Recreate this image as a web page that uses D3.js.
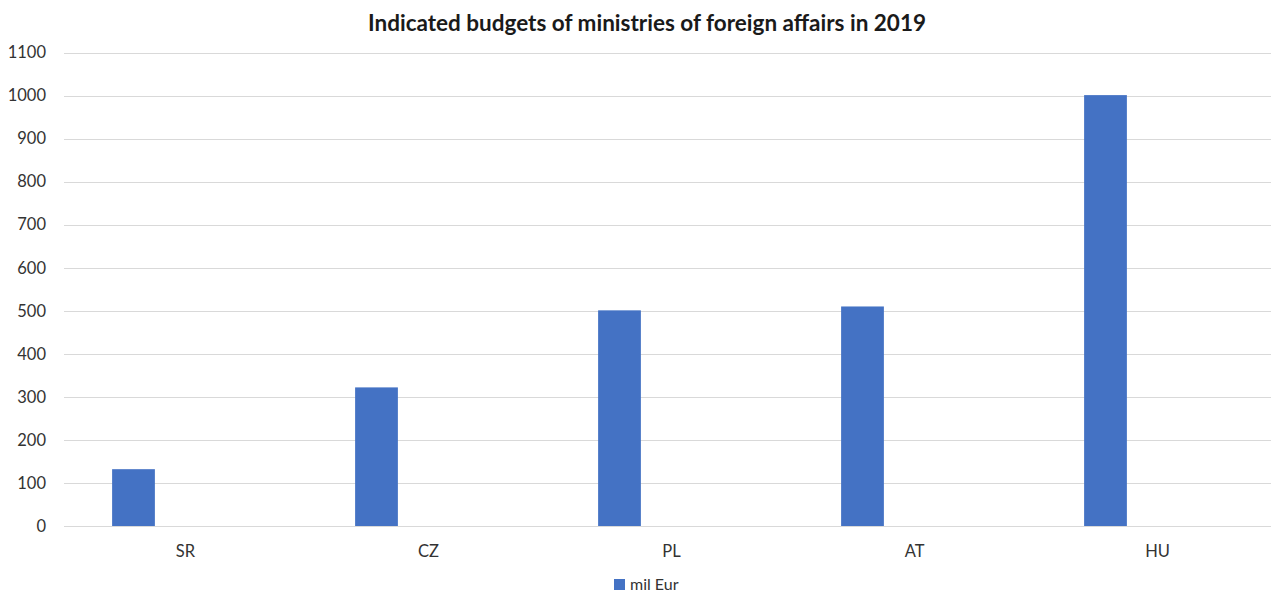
<!DOCTYPE html>
<html>
<head>
<meta charset="utf-8">
<script src="https://cdn.jsdelivr.net/npm/d3@7"></script>
<style>
  html, body { margin: 0; padding: 0; background: #fff; }
  svg { display: block; font-family: Lato, "Open Sans", sans-serif; }
</style>
</head>
<body>
<svg id="chart" width="1275" height="594"></svg>
<script>
// Indicated budgets of ministries of foreign affairs, 2019 (million EUR)
const countries = ["SR", "CZ", "PL", "AT", "HU"];
const budgets = [132, 322, 501, 510, 1001];
const yTicks = [0, 100, 200, 300, 400, 500, 600, 700, 800, 900, 1000, 1100];
const seriesName = "mil Eur";
const titleText = "Indicated budgets of ministries of foreign affairs in 2019";

const svg = d3.select("#chart");
const W = 1275, H = 594;
const plot = { left: 64, right: 1271, top: 52.5, bottom: 526 };

// Category slots are 243px wide; the plot is clipped slightly on the right
const x = d3.scaleBand()
  .domain(countries)
  .range([plot.left, plot.left + 243 * countries.length])
  .paddingInner(0).paddingOuter(0);

const y = d3.scaleLinear()
  .domain([0, 1100])
  .range([plot.bottom, plot.top]);

// Horizontal gridlines
svg.append("g")
  .selectAll("line")
  .data(yTicks)
  .join("line")
  .attr("x1", plot.left)
  .attr("x2", plot.right)
  .attr("y1", d => Math.round(y(d)) + 0.5)
  .attr("y2", d => Math.round(y(d)) + 0.5)
  .attr("stroke", "#d9d9d9")
  .attr("stroke-width", 1.2);

// Y axis labels
const yAxis = d3.axisLeft(y).tickValues(yTicks).tickFormat(d3.format("d"))
  .tickSize(0).tickPadding(0);
const gy = svg.append("g")
  .attr("transform", `translate(${plot.left - 18},0)`)
  .call(yAxis);
gy.select(".domain").remove();
gy.selectAll("text")
  .attr("font-family", "Lato, 'Open Sans', sans-serif")
  .attr("font-size", 16.5)
  .attr("fill", "#333");

// Bars: each sits in the left part of its category slot
const barOffset = 0.198;
const barWidth = 0.176;
svg.append("g")
  .selectAll("rect")
  .data(countries.map((c, i) => ({ c, v: budgets[i] })))
  .join("rect")
  .attr("x", d => x(d.c) + x.bandwidth() * barOffset)
  .attr("width", x.bandwidth() * barWidth)
  .attr("y", d => y(d.v))
  .attr("height", d => y(0) - y(d.v))
  .attr("fill", "#4472c4");

// Category labels
const xAxis = d3.axisBottom(x).tickSize(0).tickPadding(0);
const gx = svg.append("g")
  .attr("transform", `translate(0,${y(0) + 31})`)
  .call(xAxis);
gx.select(".domain").remove();
gx.selectAll("text")
  .attr("font-family", "Lato, 'Open Sans', sans-serif")
  .attr("font-size", 16.5)
  .attr("fill", "#333")
  .attr("dy", "0");

// Title
svg.append("text")
  .attr("x", 647)
  .attr("y", 31)
  .attr("text-anchor", "middle")
  .attr("font-size", 22.5)
  .attr("font-weight", "bold")
  .attr("fill", "#1a1a1a")
  .text(titleText);

// Legend
const legend = svg.append("g").attr("transform", "translate(614,579)");
legend.append("rect")
  .attr("width", 11).attr("height", 11)
  .attr("fill", "#4472c4");
legend.append("text")
  .attr("x", 16).attr("y", 10.5)
  .attr("font-size", 16)
  .attr("fill", "#333")
  .text(seriesName);
</script>
</body>
</html>
